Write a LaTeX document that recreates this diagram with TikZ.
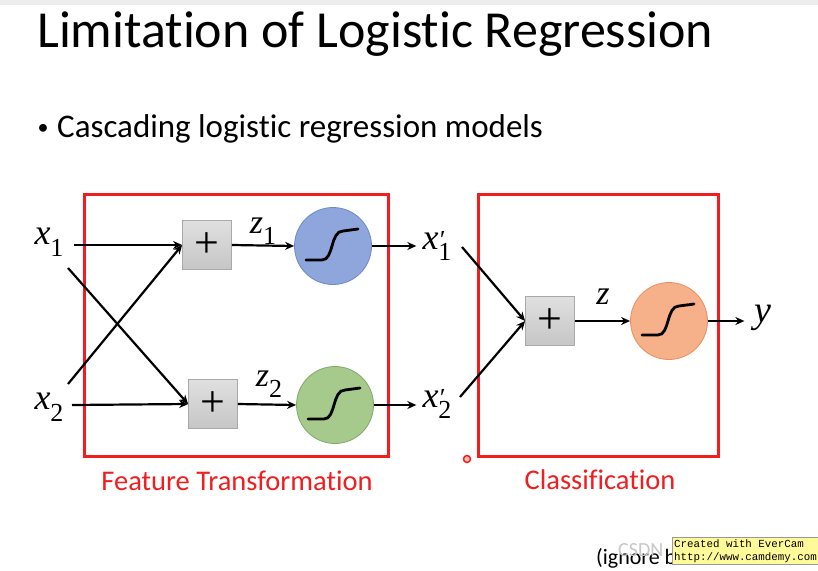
\documentclass[tikz,border=0pt]{standalone}
\usepackage{fontspec}
\setmainfont{Carlito}[Ligatures=NoCommon]
\newfontfamily\tms{Liberation Serif}
\newfontfamily\tmono{Liberation Mono}
\usetikzlibrary{arrows.meta,calc}
\newcommand{\mvar}[2]{{\tms\itshape #1}\raisebox{-0.32em}{\tms\fontsize{26}{26}\selectfont #2}}
\newcommand{\mvarp}[2]{{\tms\itshape #1}\raisebox{-0.32em}{\tms\fontsize{26}{26}\selectfont\shortstack[l]{\itshape ′\\[-8pt]#2}}}
\definecolor{redbox}{HTML}{F01E1E}
\definecolor{blueF}{HTML}{8EA6DC}
\definecolor{blueD}{HTML}{6D89C9}
\definecolor{greenF}{HTML}{A6C98C}
\definecolor{greenD}{HTML}{82A86A}
\definecolor{orangeF}{HTML}{F6B08A}
\definecolor{orangeD}{HTML}{E89060}
\definecolor{grayF}{HTML}{C6C6C6}
\definecolor{grayD}{HTML}{A9A9A9}
\tikzset{
  arr/.style={line width=2.2pt,-{Stealth[length=9pt,width=8pt]}},
  sumbox/.style={draw=grayD,line width=0.8pt,top color=grayF!55,bottom color=grayF,minimum size=49pt,inner sep=0pt,font=\tms\fontsize{44}{44}\selectfont},
  sigc/.style={circle,draw=#1D,line width=0.8pt,fill=#1F,minimum size=77pt,inner sep=0pt},
  redframe/.style={draw=redbox,line width=3pt},
  mlab/.style={inner sep=0pt,font=\tms\fontsize{36}{36}\selectfont},
  zlab/.style={inner sep=0pt,font=\tms\fontsize{34}{34}\selectfont},
  redlab/.style={text=redbox,inner sep=0pt,font=\fontsize{28.5}{28.5}\selectfont},
  sig/.style={line width=2.8pt,line cap=round}
}
\begin{document}
\begin{tikzpicture}[x=1pt,y=-1pt]
\useasboundingbox (0,0) rectangle (818,570);
\fill[white] (0,0) rectangle (818,570);
\fill[black!7] (0,0) rectangle (818,5);
% title
\node[anchor=base west,inner sep=0pt,font=\fontsize{52}{52}\selectfont] (title) at (37,47) {Limitation of Logistic Regression};
\node[inner sep=0pt,font=\fontsize{22}{22}\selectfont] (bul) at (43,129) {\textbullet};
\node[anchor=base west,inner sep=0pt,font=\fontsize{33}{33}\selectfont] (sub) at (57,137) {Cascading logistic regression models};
% frames
\draw[redframe] (84,194) rectangle (388,456);
\draw[redframe] (478,194) rectangle (718,456);
\node[redlab,anchor=base] (ft) at (237,490) {Feature Transformation};
\node[redlab,anchor=base] (cl) at (600,489) {Classification};
% inputs
\node[mlab] (x1) at (49,242) {\mvar{x}{1}};
\node[mlab] (x2) at (49,407) {\mvar{x}{2}};
\coordinate (x1e) at (74,245);
\coordinate (x1d) at (68,268);
\coordinate (x2e) at (72,405);
\coordinate (x2u) at (68,384);
% sum boxes
\node[sumbox] (p1) at (207,245) {+};
\node[sumbox] (p2) at (213,404) {+};
% sigmoid circles
\node[sigc=blue] (s1) at (333,246) {};
\node[sigc=green] (s2) at (335,405) {};
\foreach \s in {s1,s2}{
  \draw[sig] ($(\s)+(-27,14)$) -- ($(\s)+(-11,14)$) .. controls ($(\s)+(1,14)$) and ($(\s)+(-3,-15)$) .. ($(\s)+(10,-15)$) -- ($(\s)+(25,-17)$);
}
\node[zlab] (z1) at (263,231) {\mvar{z}{1}};
\node[zlab] (z2) at (269,384) {\mvar{z}{2}};
\draw[arr] (x1e) -- (p1.west);
\draw[arr] (x2e) -- (p2.west);
\draw[arr] (x1d) -- (p2.west);
\draw[arr] (x2u) -- (p1.west);
\draw[arr] (p1.east) -- (s1.west);
\draw[arr] (p2.east) -- (s2.west);
% outputs of first stage
\node[mlab,inner xsep=6pt] (x1p) at (437,246) {\mvarp{x}{1}};
\node[mlab,inner xsep=6pt] (x2p) at (437,404) {\mvarp{x}{2}};
\draw[arr] (s1.east) -- (x1p.west |- s1.east);
\draw[arr] (s2.east) -- (x2p.west |- s2.east);
% second stage
\node[sumbox] (p3) at (550,321) {+};
\node[sigc=orange] (s3) at (669,321) {};
\draw[sig] ($(s3)+(-27,14)$) -- ($(s3)+(-11,14)$) .. controls ($(s3)+(1,14)$) and ($(s3)+(-3,-15)$) .. ($(s3)+(10,-15)$) -- ($(s3)+(25,-17)$);
\coordinate (a1) at (462,247);
\coordinate (a2) at (460,397);
\draw[arr] (a1) -- (p3.west);
\draw[arr] (a2) -- (p3.west);
\draw[arr] (p3.east) -- (s3.west);
\node[zlab,font=\tms\itshape\fontsize{34}{34}\selectfont] (z) at (603,297) {z};
\node[mlab,inner xsep=10pt,font=\tms\itshape\fontsize{38}{38}\selectfont] (y) at (763,318) {y};
\draw[arr] (s3.east) -- (y.west |- s3.east);
% pointer dot
\node[circle,draw=redbox,line width=1.5pt,fill=redbox!30,minimum size=7pt,inner sep=0pt] (dot) at (467,459) {};
% bottom note and watermark
\node[anchor=base west,inner sep=0pt,font=\fontsize{22}{22}\selectfont] (ign) at (596,564) {(ignore b};
\node[anchor=base west,inner sep=0pt,text=black!22,font=\fontsize{20}{20}\selectfont] (csdn) at (618,556) {CSDN};
\node[anchor=north west,draw=black!40,fill=yellow!40,inner sep=2pt,align=left,font=\tmono\fontsize{10.8}{13}\selectfont] (wm) at (672,537) {Created with EverCam\\http://www.camdemy.com};
\end{tikzpicture}
\end{document}
